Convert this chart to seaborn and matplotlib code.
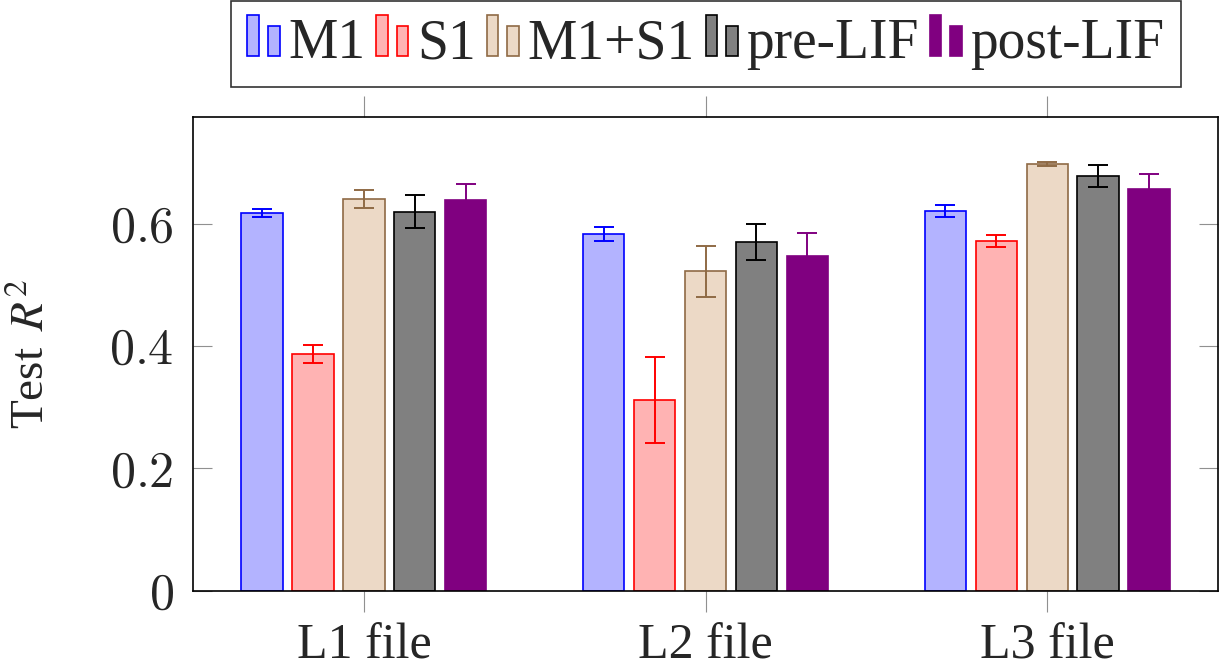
import numpy as np
import pandas as pd
import seaborn as sns
import matplotlib
matplotlib.use('Agg')
import matplotlib.pyplot as plt
from matplotlib.patches import Rectangle
from matplotlib.legend_handler import HandlerBase

files = ["L1 file", "L2 file", "L3 file"]
models = ["M1", "S1", "M1+S1", "pre-LIF", "post-LIF"]

# mean test R^2 per model, one entry per file
r2_m1 = [0.617, 0.583, 0.620]
r2_s1 = [0.387, 0.312, 0.571]
r2_m1s1 = [0.640, 0.522, 0.697]
r2_pre = [0.619, 0.570, 0.678]
r2_post = [0.638, 0.547, 0.656]

err_m1 = [0.007, 0.011, 0.010]
err_s1 = [0.015, 0.070, 0.010]
err_m1s1 = [0.015, 0.042, 0.003]
err_pre = [0.027, 0.030, 0.018]
err_post = [0.026, 0.037, 0.025]

fills = ["#b3b3ff", "#ffb3b3", "#ecd9c6", "#808080", "#800080"]
edges = ["#0000ff", "#ff0000", "#8f6a45", "#000000", "#800080"]

values = [r2_m1, r2_s1, r2_m1s1, r2_pre, r2_post]
errors = [err_m1, err_s1, err_m1s1, err_pre, err_post]

rows = []
for m, vals, errs in zip(models, values, errors):
    for f, v, e in zip(files, vals, errs):
        rows.append({"file": f, "model": m, "r2": v, "err": e})
df = pd.DataFrame(rows)

sns.set_style("ticks")
plt.rcParams['font.family'] = ['Liberation Serif', 'DejaVu Serif']
plt.rcParams['mathtext.fontset'] = 'cm'


class TwoBars(HandlerBase):
    def __init__(self, face, edge):
        super().__init__()
        self.face = face
        self.edge = edge

    def create_artists(self, legend, orig_handle, xdescent, ydescent,
                       width, height, fontsize, trans):
        bw = width * 0.36
        r1 = Rectangle((-xdescent, -ydescent), bw, height * 1.15,
                       facecolor=self.face, edgecolor=self.edge, lw=1.2, transform=trans)
        r2 = Rectangle((-xdescent + width - bw, -ydescent), bw, height * 0.85,
                       facecolor=self.face, edgecolor=self.edge, lw=1.2, transform=trans)
        return [r1, r2]


fig = plt.figure(figsize=(12.22, 6.7), dpi=100)
ax = fig.add_axes([0.158, 0.118, 0.8387, 0.7074])

sns.barplot(data=df, x="file", y="r2", hue="model", order=files, hue_order=models,
            palette=dict(zip(models, fills)), errorbar=None, width=0.745, gap=0.19,
            saturation=1, ax=ax, legend=False)

for cont, ec, m in zip(ax.containers, edges, models):
    sub = df[df.model == m].set_index("file").loc[files]
    xs = []
    for p in cont.patches:
        p.set_edgecolor(ec)
        p.set_linewidth(1.2)
        xs.append(p.get_x() + p.get_width() / 2)
    ax.errorbar(xs, sub.r2.values, yerr=sub.err.values, fmt="none", ecolor=ec,
                elinewidth=1.4, capsize=7, capthick=1.4, zorder=3)

ax.set_xlim(-0.5, 2.5)
ax.set_ylim(0, 0.774)
ax.set_yticks([0, 0.2, 0.4, 0.6])
ax.set_yticklabels(["$0$", "$0.2$", "$0.4$", "$0.6$"])
ax.set_xlabel("")
ax.set_ylabel("Test $\\,R^2$", fontsize=34, labelpad=40, math_fontfamily="stix")

ax.tick_params(axis="y", direction="in", length=14, width=0.8, color="#909090",
               left=True, right=True, labelsize=36, pad=14)
ax.tick_params(axis="x", direction="out", length=15, width=0.8, color="#909090",
               bottom=True, top=True, labelsize=36, pad=8)
for s in ax.spines.values():
    s.set_visible(True)
    s.set_linewidth(1.2)
    s.set_color("black")

handles = [Rectangle((0, 0), 1, 1) for _ in models]
hmap = {h: TwoBars(f, e) for h, f, e in zip(handles, fills, edges)}
leg = fig.legend(handles, models, handler_map=hmap, loc="upper center",
                 bbox_to_anchor=(0.5777, 0.998), ncol=5, fontsize=40, frameon=True,
                 fancybox=False, edgecolor="black", handlelength=0.58, handleheight=0.62,
                 handletextpad=0.15, columnspacing=0.2, borderpad=0.3, borderaxespad=0)
leg.get_frame().set_linewidth(1.2)

fig.savefig("out.png", dpi=100)
